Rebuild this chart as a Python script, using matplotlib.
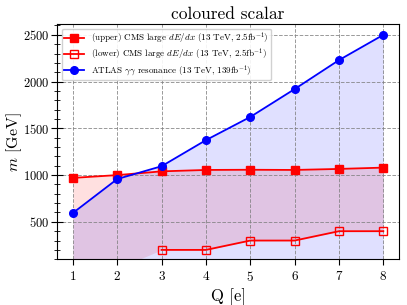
import matplotlib
matplotlib.use("Agg")
import matplotlib.pyplot as plt
from matplotlib.ticker import MultipleLocator

plt.rcParams['font.family'] = ['cmr10', 'DejaVu Serif']
plt.rcParams['mathtext.fontset'] = 'cm'
plt.rcParams['axes.formatter.use_mathtext'] = True

# data
Q = [1, 2, 3, 4, 5, 6, 7, 8]
cms_upper = [970, 1000, 1040, 1055, 1057, 1055, 1066, 1080]
cms_lower = [0, 0, 200, 200, 300, 300, 400, 400]
atlas = [595, 958, 1095, 1374, 1622, 1920, 2230, 2500]

fig = plt.figure(figsize=(4.07, 3.05), dpi=100)
ax = fig.add_axes([0.141, 0.150, 0.839, 0.771])

ax.plot(Q, cms_upper, color='red', marker='s', ms=5.5, lw=1.3,
        label=r'(upper) CMS large $dE/dx$ (13 TeV, 2.5fb$^{-1}$)')
ax.plot(Q[2:], cms_lower[2:], color='red', marker='s', ms=5.5, lw=1.3, mfc='none',
        label=r'(lower) CMS large $dE/dx$ (13 TeV, 2.5fb$^{-1}$)')
ax.plot(Q, atlas, color='blue', marker='o', ms=5.5, lw=1.3,
        label=r'ATLAS $\gamma\gamma$ resonance (13 TeV, 139fb$^{-1}$)')

ax.fill_between(Q, cms_lower, cms_upper, color='red', alpha=0.12, lw=0)
ax.fill_between(Q, 0, atlas, color='blue', alpha=0.12, lw=0)

ax.set_xlim(0.65, 8.35)
ax.set_ylim(100, 2615)
ax.yaxis.set_major_locator(MultipleLocator(500))
ax.yaxis.set_minor_locator(MultipleLocator(100))
ax.tick_params(axis='y', which='major', direction='inout', length=8, labelsize=9, pad=2)
ax.tick_params(axis='y', which='minor', direction='inout', length=5)
ax.tick_params(axis='x', which='major', direction='out', length=4, labelsize=9.5)
ax.grid(True, ls='--', color='gray', lw=0.7, alpha=0.8)

ax.set_xlabel('Q [e]', fontsize=12, labelpad=3)
ax.set_ylabel(r'$m$ [GeV]', fontsize=11.5)
ax.yaxis.set_label_coords(-0.098, 0.5)
ax.set_title('coloured scalar', fontsize=12.5, pad=4)

ax.legend(loc='upper left', fontsize=6.5, framealpha=0.9, labelspacing=0.1,
          handlelength=2.2, borderpad=0.25)

fig.savefig('out.png', dpi=100)
